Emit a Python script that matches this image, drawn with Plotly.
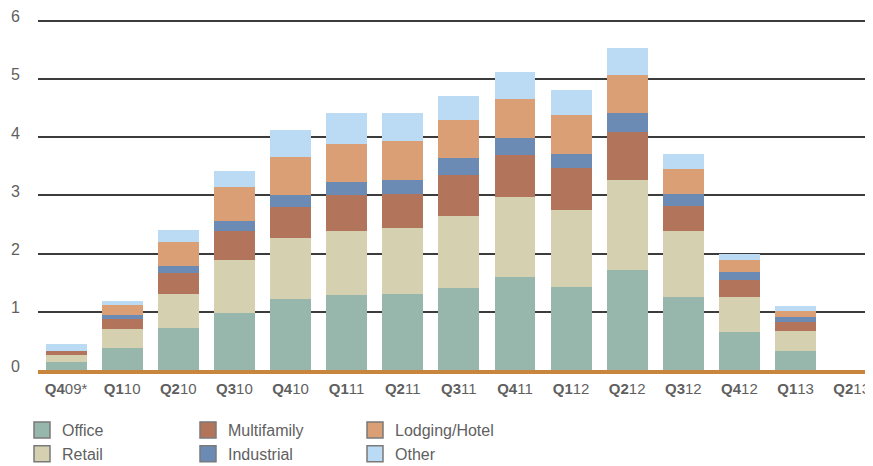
import plotly.graph_objects as go

quarters = ["Q409*", "Q110", "Q210", "Q310", "Q410", "Q111", "Q211", "Q311",
            "Q411", "Q112", "Q212", "Q312", "Q412", "Q113", "Q213"]
tick_labels = ["<b>Q4</b>09*", "<b>Q1</b>10", "<b>Q2</b>10", "<b>Q3</b>10", "<b>Q4</b>10",
               "<b>Q1</b>11", "<b>Q2</b>11", "<b>Q3</b>11", "<b>Q4</b>11", "<b>Q1</b>12",
               "<b>Q2</b>12", "<b>Q3</b>12", "<b>Q4</b>12", "<b>Q1</b>13", "<b>Q2</b>13"]

office      = [0.13, 0.38, 0.72, 0.98, 1.22, 1.28, 1.31, 1.41, 1.59, 1.43, 1.71, 1.26, 0.66, 0.33, 0]
retail      = [0.12, 0.33, 0.59, 0.90, 1.04, 1.10, 1.12, 1.23, 1.38, 1.31, 1.55, 1.12, 0.60, 0.34, 0]
multifamily = [0.08, 0.17, 0.36, 0.50, 0.53, 0.62, 0.60, 0.70, 0.72, 0.73, 0.83, 0.43, 0.29, 0.16, 0]
industrial  = [0.00, 0.07, 0.12, 0.17, 0.21, 0.22, 0.23, 0.30, 0.29, 0.24, 0.32, 0.22, 0.14, 0.08, 0]
lodging     = [0.00, 0.17, 0.40, 0.59, 0.66, 0.66, 0.67, 0.65, 0.68, 0.67, 0.66, 0.42, 0.19, 0.11, 0]
other       = [0.11, 0.07, 0.22, 0.27, 0.46, 0.53, 0.48, 0.42, 0.46, 0.43, 0.45, 0.26, 0.12, 0.08, 0]

series = [
    ("Office", office, "#97B7AC", "legend"),
    ("Retail", retail, "#D5D1B0", "legend"),
    ("Multifamily", multifamily, "#B3745C", "legend2"),
    ("Industrial", industrial, "#6B8AB4", "legend2"),
    ("Lodging/Hotel", lodging, "#DA9F75", "legend3"),
    ("Other", other, "#BADBF3", "legend3"),
]

FONT = "Liberation Sans Narrow, Arial Narrow, Liberation Sans, Arial, sans-serif"
TXT = "#5f5f5f"

fig = go.Figure()
for name, vals, color, lg in series:
    fig.add_trace(go.Bar(x=quarters, y=vals, name=name, marker=dict(color=color, line=dict(width=0)),
                         showlegend=False))
for name, vals, color, lg in series:
    fig.add_trace(go.Scatter(x=[None], y=[None], mode="markers", name=name, legend=lg,
                             marker=dict(symbol="square", size=16, color=color,
                                         line=dict(color="#7a7a7a", width=1.5))))

leg_common = dict(xref="container", yref="container", yanchor="top", xanchor="left",
                  orientation="v", traceorder="normal",
                  font=dict(family=FONT, size=16, color=TXT),
                  bgcolor="rgba(0,0,0,0)", itemwidth=30, tracegroupgap=0)
ytop = 1 - 405 / 466
fig.update_layout(
    barmode="stack",
    bargap=0.27,
    width=873, height=466,
    margin=dict(l=30, r=8, t=9, b=104, autoexpand=False),
    plot_bgcolor="white", paper_bgcolor="white",
    font=dict(family=FONT, size=16, color=TXT),
    legend=dict(x=14 / 873, y=ytop, **leg_common),
    legend2=dict(x=180 / 873, y=ytop, **leg_common),
    legend3=dict(x=347 / 873, y=ytop, **leg_common),
    xaxis=dict(tickmode="array", tickvals=quarters, ticktext=tick_labels,
               range=[-0.5, 14.38], showgrid=False, showline=True,
               linecolor="#C8863C", linewidth=4, ticks="", tickangle=0,
               tickfont=dict(family=FONT, size=15, color=TXT), ticklabelstandoff=2,
               ticklabeloverflow="allow"),
    yaxis=dict(range=[0, 6.06], tickvals=[0, 1, 2, 3, 4, 5, 6], showgrid=True,
               gridcolor="#3c3c3c", gridwidth=1.5,
               zeroline=False, showline=False, ticks="",
               tickfont=dict(family=FONT, size=16, color=TXT),
               ticklabelstandoff=17, ticklabelshift=-4, ticklabeloverflow="allow"),
)

fig.write_html("out.html")
